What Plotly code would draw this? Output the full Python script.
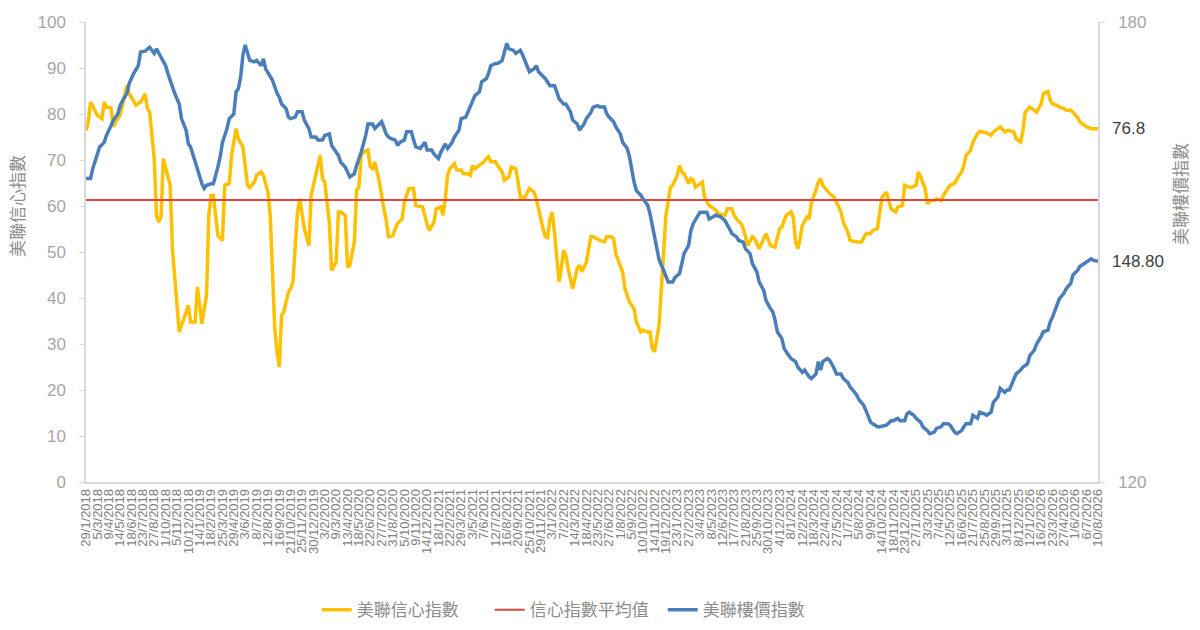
import pandas as pd
import plotly.graph_objects as go

# weekly data, week 0 = 29/1/2018, last week = 10/8/2026
START = pd.Timestamp("2018-01-29")
END = pd.Timestamp("2026-08-10")

# 美聯信心指數 (left axis) - week number / value
conf_week = [0, 1, 2, 4, 5, 7, 8, 9, 11, 12, 13, 15, 16, 18, 19, 22, 24, 26, 27, 28,
             30, 31, 32, 33, 34, 36, 37, 38, 40, 41, 43, 45, 46, 48, 49, 51, 52, 53, 54, 55,
             56, 58, 60, 61, 63, 64, 66, 67, 69, 71, 72, 74, 75, 77, 78, 80, 81, 82, 83, 84,
             85, 86, 87, 89, 90, 91, 92, 93, 94, 95, 96, 98, 99, 101, 103, 104, 105, 107, 108, 110,
             111, 112, 114, 115, 116, 118, 119, 120, 121, 122, 124, 125, 126, 127, 128, 129, 131, 132, 133, 135,
             136, 137, 139, 140, 142, 144, 145, 147, 148, 150, 151, 153, 154, 156, 157, 158, 159, 160, 162, 163,
             165, 166, 168, 169, 170, 171, 173, 175, 176, 177, 178, 180, 181, 183, 184, 186, 187, 189, 190, 191,
             193, 194, 195, 197, 198, 199, 200, 201, 202, 203, 204, 205, 206, 207, 208, 209, 210, 211, 212, 214,
             215, 216, 217, 218, 220, 221, 222, 223, 225, 226, 228, 229, 231, 232, 233, 234, 236, 237, 238, 239,
             241, 242, 244, 245, 247, 248, 249, 250, 252, 253, 254, 255, 256, 257, 258, 260, 261, 262, 263, 265,
             266, 267, 268, 270, 271, 272, 274, 275, 277, 278, 280, 281, 282, 284, 285, 286, 288, 289, 290, 291,
             293, 294, 296, 298, 299, 301, 303, 305, 306, 307, 308, 310, 311, 312, 313, 314, 315, 317, 318, 319,
             321, 322, 323, 324, 326, 327, 329, 330, 332, 333, 335, 336, 338, 339, 341, 342, 343, 345, 346, 348,
             349, 350, 352, 353, 354, 356, 357, 359, 360, 362, 363, 365, 366, 367, 369, 370, 371, 373, 374, 376,
             377, 379, 380, 382, 383, 385, 386, 387, 389, 390, 392, 393, 395, 396, 398, 399, 401, 402, 404, 405,
             406, 408, 409, 411, 412, 413, 415, 417, 418, 420, 421, 423, 424, 425, 427, 428, 430, 431, 433, 434,
             436, 437, 439, 440, 442, 443, 445]
conf_value = [76.4, 78.3, 82.6, 80.8, 79.7, 79.0, 82.6, 81.5, 81.3, 77.2, 78.3, 79.7, 82.2, 86.2, 84.4, 81.9, 82.6, 84.4, 81.2, 80.4,
              70.3, 58.0, 56.5, 57.6, 70.3, 66.0, 64.5, 50.7, 39.9, 32.6, 35.5, 38.4, 34.8, 34.8, 42.4, 34.4, 37.7, 40.6, 58.0, 62.3,
              62.3, 53.6, 52.5, 64.5, 64.9, 71.0, 76.8, 74.6, 72.8, 64.5, 64.0, 65.2, 66.7, 67.4, 66.7, 63.0, 58.0, 46.4, 33.3, 28.3,
              25.0, 36.2, 37.0, 41.3, 42.0, 43.5, 50.0, 58.7, 61.6, 58.0, 55.1, 51.4, 62.3, 66.7, 71.0, 65.9, 65.2, 56.5, 46.0, 47.8,
              58.7, 58.7, 58.0, 46.7, 47.1, 52.2, 63.4, 64.1, 71.0, 71.7, 72.1, 68.5, 68.1, 69.6, 67.4, 65.2, 59.4, 56.9, 53.3, 53.6,
              55.1, 56.2, 57.2, 60.9, 63.8, 63.8, 60.1, 60.0, 59.8, 56.0, 54.7, 56.5, 59.4, 59.8, 58.0, 61.6, 66.7, 68.1, 69.2, 67.8,
              67.8, 67.0, 67.0, 66.7, 68.8, 68.1, 68.8, 69.6, 70.3, 70.7, 69.6, 69.6, 68.8, 67.4, 65.6, 66.3, 68.5, 68.1, 65.2, 61.9,
              61.9, 62.7, 63.8, 63.0, 61.6, 59.4, 57.0, 55.0, 53.3, 53.1, 57.2, 58.7, 54.3, 48.6, 43.5, 46.4, 50.4, 49.3, 46.4, 42.0,
              44.2, 46.5, 47.1, 45.7, 47.8, 50.7, 53.3, 53.3, 52.7, 52.5, 52.2, 53.3, 53.3, 52.9, 49.6, 48.2, 45.5, 42.0, 40.6, 39.1,
              37.7, 34.8, 32.6, 33.0, 32.6, 32.6, 29.0, 28.3, 34.1, 42.0, 50.7, 58.0, 60.9, 64.1, 64.5, 66.7, 68.8, 67.4, 67.0, 64.9,
              65.9, 65.6, 64.1, 64.9, 65.2, 61.9, 60.1, 59.8, 59.1, 58.3, 58.0, 58.0, 59.4, 59.4, 58.0, 57.2, 56.2, 55.1, 53.3, 51.4,
              53.3, 52.9, 50.7, 52.9, 54.0, 51.4, 51.1, 55.1, 55.4, 56.9, 58.0, 58.7, 57.6, 52.2, 50.7, 52.9, 55.8, 57.6, 57.2, 60.9,
              63.4, 65.2, 65.9, 64.5, 63.4, 62.7, 61.9, 60.9, 58.7, 56.5, 54.3, 52.5, 52.2, 52.2, 52.2, 53.3, 54.0, 54.0, 54.7, 55.1,
              58.7, 61.9, 63.0, 60.9, 59.4, 58.7, 59.8, 60.1, 64.5, 64.1, 64.1, 64.5, 67.4, 66.3, 63.8, 60.5, 61.0, 61.2, 61.6, 61.2,
              62.3, 63.8, 64.5, 64.9, 65.9, 67.4, 68.8, 71.0, 72.1, 73.9, 75.7, 76.2, 76.1, 75.9, 75.4, 76.1, 76.8, 77.2, 76.1, 76.4,
              76.4, 76.1, 74.6, 73.9, 76.4, 80.4, 81.5, 80.8, 80.4, 82.2, 84.4, 84.9, 83.0, 82.2, 81.9, 81.5, 81.2, 80.8, 80.8, 80.4,
              79.3, 78.3, 77.5, 77.2, 76.8, 76.8, 76.8]

# 美聯樓價指數 (right axis)
price_week = [0, 2, 3, 5, 6, 8, 9, 11, 12, 14, 15, 16, 18, 19, 21, 23, 24, 26, 27, 28,
              30, 31, 33, 35, 36, 38, 39, 41, 42, 44, 45, 46, 48, 49, 51, 52, 53, 55, 56, 58,
              59, 60, 62, 63, 65, 66, 67, 68, 69, 70, 71, 72, 74, 75, 77, 78, 79, 81, 82, 84,
              85, 86, 88, 89, 90, 92, 93, 95, 96, 98, 99, 101, 102, 104, 105, 107, 108, 110, 111, 112,
              114, 116, 118, 119, 121, 123, 124, 126, 127, 129, 130, 132, 133, 134, 136, 137, 138, 140, 141, 143,
              144, 145, 147, 149, 150, 152, 153, 155, 156, 158, 159, 161, 162, 164, 165, 167, 168, 170, 171, 173,
              174, 176, 177, 178, 180, 181, 183, 184, 185, 186, 188, 189, 191, 192, 194, 195, 197, 198, 199, 201,
              202, 204, 206, 207, 208, 210, 211, 213, 214, 216, 217, 219, 220, 222, 223, 225, 226, 228, 229, 230,
              232, 233, 235, 236, 238, 239, 240, 241, 242, 244, 245, 247, 248, 249, 250, 251, 252, 254, 255, 256,
              258, 259, 261, 262, 263, 265, 266, 267, 269, 270, 272, 273, 274, 276, 277, 279, 280, 281, 283, 284,
              286, 287, 289, 290, 292, 293, 295, 296, 298, 299, 301, 302, 303, 304, 306, 307, 309, 310, 312, 313,
              315, 316, 318, 319, 321, 322, 323, 324, 326, 327, 329, 330, 332, 333, 335, 336, 338, 339, 340, 342,
              343, 345, 346, 348, 349, 351, 352, 354, 355, 357, 358, 360, 361, 362, 364, 365, 367, 368, 370, 371,
              373, 374, 376, 377, 379, 380, 382, 383, 385, 386, 387, 389, 390, 392, 393, 395, 396, 398, 399, 401,
              402, 404, 405, 406, 408, 409, 411, 412, 414, 415, 417, 418, 420, 421, 423, 424, 425, 427, 428, 430,
              431, 433, 434, 436, 437, 439, 440, 442, 443, 445]
price_value = [159.6, 159.6, 160.9, 162.8, 163.7, 164.3, 165.2, 166.5, 167.2, 168.0, 169.1, 169.7, 170.7, 172.0, 173.3, 174.3, 176.1, 176.2, 176.5, 176.7,
               175.9, 176.5, 175.4, 174.3, 173.3, 171.5, 170.7, 169.3, 167.4, 165.9, 164.1, 163.7, 161.7, 160.9, 158.9, 158.3, 158.7, 158.9, 158.9, 161.1,
               162.4, 164.3, 166.1, 167.4, 168.0, 170.9, 171.3, 172.8, 175.7, 177.0, 176.1, 175.0, 174.8, 175.0, 174.3, 175.2, 173.9, 173.0, 172.4, 170.7,
               170.2, 169.3, 168.7, 167.6, 167.4, 167.6, 168.3, 168.3, 167.2, 166.1, 165.0, 165.0, 164.6, 164.6, 165.2, 165.4, 163.9, 163.0, 162.6, 161.7,
               161.1, 159.8, 160.2, 161.3, 163.0, 165.2, 166.7, 166.7, 166.1, 166.7, 167.0, 165.4, 165.0, 164.8, 164.6, 163.9, 164.3, 164.6, 165.7, 165.7,
               164.6, 163.7, 163.5, 164.3, 163.3, 163.3, 162.8, 162.2, 163.0, 164.1, 163.5, 164.3, 165.0, 165.9, 167.4, 167.6, 168.3, 169.6, 170.4, 170.9,
               172.2, 172.6, 173.3, 174.3, 174.6, 174.6, 175.0, 176.1, 177.2, 176.5, 176.3, 175.9, 176.3, 175.7, 174.3, 173.5, 173.9, 174.3, 173.5, 173.0,
               172.6, 171.7, 171.7, 170.9, 170.0, 169.3, 169.3, 168.3, 167.2, 166.7, 165.9, 166.7, 167.4, 168.2, 168.9, 169.1, 168.9, 168.9, 168.0, 167.6,
               167.0, 166.3, 165.4, 164.3, 163.5, 162.4, 160.4, 159.1, 158.0, 157.4, 156.9, 156.1, 155.0, 153.5, 152.2, 150.8, 149.0, 147.6, 146.7, 146.1,
               146.1, 146.7, 147.2, 148.5, 149.8, 150.9, 152.8, 153.7, 154.6, 155.2, 155.2, 155.2, 154.3, 154.6, 154.8, 154.6, 154.3, 154.1, 153.0, 152.4,
               152.0, 151.5, 151.3, 150.4, 149.8, 148.5, 147.4, 146.1, 145.0, 143.7, 142.6, 142.2, 141.1, 139.6, 138.7, 137.4, 136.5, 136.1, 135.7, 135.0,
               134.3, 134.6, 133.7, 133.5, 134.1, 135.7, 134.6, 135.7, 136.1, 135.9, 134.8, 134.1, 134.1, 133.5, 133.0, 132.4, 131.7, 131.3, 130.7, 130.0,
               129.3, 127.8, 127.6, 127.2, 127.2, 127.4, 127.4, 128.0, 128.0, 128.3, 128.0, 128.0, 128.9, 129.1, 128.7, 128.3, 127.8, 127.2, 126.7, 126.3,
               126.5, 127.0, 127.2, 127.6, 127.6, 127.4, 126.5, 126.3, 126.7, 127.2, 127.6, 127.6, 128.7, 128.3, 129.1, 128.9, 128.7, 129.1, 130.4, 131.1,
               132.2, 131.7, 132.0, 132.0, 133.5, 134.1, 134.6, 135.0, 135.4, 136.5, 137.2, 138.0, 139.0, 139.6, 139.8, 140.9, 141.5, 143.0, 143.9, 144.6,
               145.2, 145.9, 147.0, 147.6, 148.1, 148.5, 148.7, 149.1, 148.9, 148.8]

conf_avg = 61.3
conf_last_label = "76.8"
price_last_label = "148.80"


def to_dates(weeks):
    return [START + pd.Timedelta(weeks=w) for w in weeks]


tick_dates = pd.date_range(START, END, freq="35D")
tick_text = [f"{d.day}/{d.month}/{d.year}" for d in tick_dates]

FONT = "Liberation Sans, Noto Sans CJK TC, sans-serif"
AXIS_LINE = "#d9d9d9"

fig = go.Figure()
fig.add_trace(go.Scatter(x=to_dates(conf_week), y=conf_value, mode="lines",
                         name="美聯信心指數", line=dict(color="#ffc000", width=3.5)))
fig.add_trace(go.Scatter(x=[START, END], y=[conf_avg, conf_avg], mode="lines",
                         name="信心指數平均值", line=dict(color="#e0463c", width=2)))
fig.add_trace(go.Scatter(x=to_dates(price_week), y=price_value, mode="lines", yaxis="y2",
                         name="美聯樓價指數", line=dict(color="#4a7ebb", width=3.5)))

# page body keeps an 8px margin, so the figure is 8px smaller than the window
fig.update_layout(
    width=1192, height=622,
    margin=dict(l=78, r=102, t=14, b=148),
    paper_bgcolor="white", plot_bgcolor="white",
    font=dict(family=FONT, color="#8c8c8c"),
    showlegend=True,
    legend=dict(orientation="h", xref="container", yref="container",
                x=0.259, xanchor="left", y=0.032, yanchor="middle",
                font=dict(size=17, color="#8c8c8c"), itemwidth=30,
                entrywidth=128, entrywidthmode="pixels"),
    xaxis=dict(type="date", range=[START, END], tickvals=tick_dates, ticktext=tick_text,
               tickangle=-90, tickfont=dict(size=13, color="#808080"), automargin=False,
               showline=True, linecolor=AXIS_LINE, linewidth=1.5, showgrid=False,
               zeroline=False, ticks=""),
    yaxis=dict(range=[0, 100], dtick=10, showline=True, linecolor=AXIS_LINE, linewidth=1.5,
               ticks="outside", ticklen=5, tickcolor=AXIS_LINE, ticklabelstandoff=10,
               automargin=False,
               tickfont=dict(size=17, color="#a6a6a6"), showgrid=False, zeroline=False),
    yaxis2=dict(range=[120, 180], tickvals=[120, 180], overlaying="y", side="right",
                showline=True, linecolor=AXIS_LINE, linewidth=1.5, automargin=False,
                ticks="outside", ticklen=5, tickcolor=AXIS_LINE, ticklabelstandoff=10,
                tickfont=dict(size=17, color="#a6a6a6"), showgrid=False, zeroline=False),
)

# axis titles
fig.add_annotation(text="美聯信心指數", xref="paper", yref="paper", x=-0.0672, y=0.6,
                   xanchor="center", yanchor="middle", textangle=-90, showarrow=False,
                   font=dict(size=17, color="#8c8c8c"))
fig.add_annotation(text="美聯樓價指數", xref="paper", yref="paper", x=1.082, y=0.626,
                   xanchor="center", yanchor="middle", textangle=-90, showarrow=False,
                   font=dict(size=17, color="#8c8c8c"))

# last values
fig.add_annotation(text=conf_last_label, xref="paper", yref="y", x=1, y=conf_value[-1],
                   xanchor="left", xshift=12, showarrow=False, font=dict(size=17, color="#404040"))
fig.add_annotation(text=price_last_label, xref="paper", yref="y2", x=1, y=price_value[-1],
                   xanchor="left", xshift=12, showarrow=False, font=dict(size=17, color="#404040"))

fig.write_html("out.html")
